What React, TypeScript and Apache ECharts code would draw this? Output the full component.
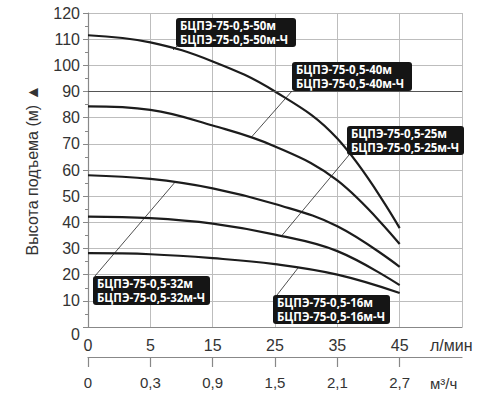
import React, { useEffect, useRef } from "react";
import * as echarts from "echarts";

// Flow axis labels (л/мин) and secondary axis (м³/ч)
const FLOW_LPM = ["0", "5", "15", "25", "35", "45"];
const FLOW_M3H = ["0", "0,3", "0,9", "1,5", "2,1", "2,7"];

// Head curves (м) at each flow point
const CURVE_50 = [111.5, 108.8, 101.5, 90, 72, 37.8];
const CURVE_40 = [84.3, 83, 77, 69, 56, 31.7];
const CURVE_32 = [58, 56.6, 53, 47, 38.5, 23];
const CURVE_25 = [42.2, 41.6, 39.5, 35.3, 29, 16];
const CURVE_16 = [28.2, 27.8, 26.3, 24, 20, 13];

const CURVES = [CURVE_50, CURVE_40, CURVE_32, CURVE_25, CURVE_16];

const LABEL_50 = ["БЦПЭ-75-0,5-50м", "БЦПЭ-75-0,5-50м-Ч"];
const LABEL_40 = ["БЦПЭ-75-0,5-40м", "БЦПЭ-75-0,5-40м-Ч"];
const LABEL_25 = ["БЦПЭ-75-0,5-25м", "БЦПЭ-75-0,5-25м-Ч"];
const LABEL_32 = ["БЦПЭ-75-0,5-32м", "БЦПЭ-75-0,5-32м-Ч"];
const LABEL_16 = ["БЦПЭ-75-0,5-16м", "БЦПЭ-75-0,5-16м-Ч"];

const Y_NAME = "Высота подъема (м) ▲";
const UNIT_LPM = "л/мин";
const UNIT_M3H = "м³/ч";

const FONT = "'Liberation Sans', Arial, sans-serif";
const BOX_FONT = "'Open Sans', 'Noto Sans', sans-serif";

function box(lines: string[], x: number, y: number, w: number) {
  return {
    type: "group",
    x,
    y,
    children: [
      {
        type: "rect",
        z: 20,
        shape: { x: 0, y: 0, width: w, height: 29, r: 3 },
        style: { fill: "#151515" },
      },
      ...lines.map((t, i) => ({
        type: "text",
        z: 21,
        x: 4,
        y: 7.5 + i * 13.5,
        style: {
          text: t,
          fill: "#ffffff",
          font: `bold 11.5px ${BOX_FONT}`,
          align: "left",
          verticalAlign: "middle",
        },
      })),
    ],
  };
}

function leader(x1: number, y1: number, x2: number, y2: number) {
  return {
    type: "line",
    z: 19,
    shape: { x1, y1, x2, y2 },
    style: { stroke: "#222", lineWidth: 0.8 },
  };
}

export default function App() {
  const ref = useRef<HTMLDivElement>(null);
  useEffect(() => {
    if (!ref.current) return;
    const chart = echarts.init(ref.current, null, { renderer: "svg" });
    const idx = FLOW_LPM.map((_, i) => i);
    const option: any = {
      animation: false,
      backgroundColor: "#ffffff",
      grid: { left: 88, top: 13, right: 38, bottom: 73 },
      xAxis: [
        {
          type: "value",
          min: 0,
          max: 6,
          interval: 1,
          position: "bottom",
          axisLine: { show: true, lineStyle: { color: "#888", width: 1.2 } },
          axisTick: { show: false },
          axisLabel: {
            formatter: (v: number) => FLOW_LPM[v] ?? "",
            fontSize: 16,
            color: "#333",
            margin: 10,
            fontFamily: FONT,
          },
          splitLine: { show: true, lineStyle: { color: "#bdbdbd", width: 1 } },
        },
        {
          type: "value",
          min: 0,
          max: 6,
          interval: 1,
          position: "bottom",
          offset: 30,
          axisLine: { show: true, lineStyle: { color: "#888", width: 1.2 } },
          axisTick: {
            show: true,
            length: 10,
            customValues: idx,
            lineStyle: { color: "#888", width: 1.2 },
          },
          axisLabel: {
            customValues: idx,
            formatter: (v: number) => FLOW_M3H[v] ?? "",
            fontSize: 15,
            color: "#333",
            margin: 18,
            fontFamily: FONT,
          },
          splitLine: { show: false },
        },
      ],
      yAxis: {
        type: "value",
        min: 0,
        max: 120,
        interval: 10,
        name: Y_NAME,
        nameLocation: "middle",
        nameRotate: 90,
        nameGap: 48,
        nameTextStyle: { fontSize: 16, color: "#333", fontFamily: FONT },
        axisLine: { show: true, lineStyle: { color: "#888", width: 1.2 } },
        axisTick: { show: true, length: 5, lineStyle: { color: "#888" } },
        minorTick: { show: true, splitNumber: 2, length: 3, lineStyle: { color: "#888" } },
        axisLabel: {
          fontSize: 16,
          color: "#333",
          margin: 8,
          fontFamily: FONT,
          formatter: (v: number) => (v === 0 ? "{z|0}" : String(v)),
          rich: { z: { fontSize: 16, color: "#333", fontFamily: FONT, padding: [14, 0, 0, 0] } },
        },
        splitLine: { show: true, lineStyle: { color: "#bdbdbd", width: 1 } },
      },
      series: CURVES.map((c, k) => ({
        type: "line",
        xAxisIndex: 0,
        data: c.map((h, i) => [idx[i], h]),
        smooth: 0.4,
        showSymbol: false,
        lineStyle: { color: "#1c1c1c", width: 2.2 },
        markLine:
          k === 0
            ? {
                silent: true,
                symbol: "none",
                label: { show: false },
                lineStyle: { color: "#555", type: "solid", width: 1.2 },
                data: [{ yAxis: 90 }],
              }
            : undefined,
      })),
      graphic: [
        leader(177, 46, 173, 50),
        leader(292, 91, 251.5, 137),
        leader(349, 155, 281.5, 236),
        leader(95, 276, 176, 181),
        leader(277, 295, 298, 268),
        box(LABEL_50, 176, 18, 120),
        box(LABEL_40, 292, 62, 120),
        box(LABEL_25, 347, 126, 117),
        box(LABEL_32, 93, 276, 117),
        box(LABEL_16, 273, 295, 117),
        {
          type: "text",
          x: 430,
          y: 345,
          style: { text: UNIT_LPM, font: `16px ${FONT}`, fill: "#333", verticalAlign: "middle" },
        },
        {
          type: "text",
          x: 430,
          y: 383,
          style: { text: UNIT_M3H, font: `15px ${FONT}`, fill: "#333", verticalAlign: "middle" },
        },
      ],
    };
    chart.setOption(option);
    return () => chart.dispose();
  }, []);
  return (
    <div
      ref={ref}
      style={{ position: "absolute", left: 0, top: 0, width: 500, height: 400 }}
    />
  );
}
